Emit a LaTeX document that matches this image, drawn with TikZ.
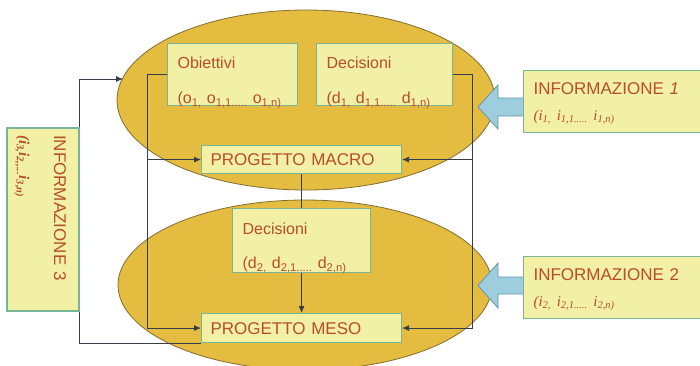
\documentclass[tikz,border=0pt]{standalone}
\usepackage{fontspec}
\setmainfont{Liberation Sans}
\newfontfamily\serifit{Liberation Serif}
\usetikzlibrary{shapes.geometric,arrows.meta}
\definecolor{ellfill}{RGB}{228,188,64}
\definecolor{ellline}{RGB}{130,110,50}
\definecolor{boxfill}{RGB}{242,240,164}
\definecolor{boxline}{RGB}{120,180,150}
\definecolor{txt}{RGB}{182,78,42}
\definecolor{arrfill}{RGB}{158,205,222}
\definecolor{arrline}{RGB}{100,150,175}
\definecolor{connc}{RGB}{55,60,75}
\begin{document}
\begin{tikzpicture}[x=1pt,y=-1pt,
  ell/.style={ellipse, draw=ellline, fill=ellfill, line width=0.8pt, inner sep=0pt},
  box/.style={rectangle, draw=boxline, fill=boxfill, line width=1.1pt, text=txt,
    inner xsep=10pt, inner ysep=0pt, anchor=north west, align=left},
  conn/.style={draw=connc, line width=0.8pt},
  arr/.style={-{Latex[length=7pt,width=6pt]}},
  fat/.style={draw=arrline, fill=arrfill, line width=0.8pt, line join=miter}]
\useasboundingbox (0,0) rectangle (700,365);
\clip (0,0) rectangle (700,365);
% ellipses
\node[ell, minimum width=378pt, minimum height=180pt] (topell) at (306,100) {};
\node[ell, minimum width=374pt, minimum height=170pt] (botell) at (305,285) {};
% fat arrows
\path[fat] (524,98) -- (498,98) -- (498,85) -- (478,107) -- (498,129) -- (498,116) -- (524,116) -- cycle;
\path[fat] (524,277) -- (498,277) -- (498,263) -- (478,285.5) -- (498,308) -- (498,294) -- (524,294) -- cycle;
% boxes
\node[box, minimum width=130pt, minimum height=62pt, text width=110pt, text height=25pt, text depth=37pt,
  font=\fontsize{16}{35}\selectfont] (obj) at (167,43)
  {Obiettivi\\(o\textsubscript{1,} o\textsubscript{1,1.....} o\textsubscript{1,n)}};
\node[box, minimum width=136pt, minimum height=62pt, text width=116pt, text height=25pt, text depth=37pt,
  font=\fontsize{16}{35}\selectfont] (dec1) at (316,43)
  {Decisioni\\(d\textsubscript{1,} d\textsubscript{1,1.....} d\textsubscript{1,n)}};
\node[box, minimum width=200pt, minimum height=28pt, text width=182pt, inner xsep=9pt, text height=12.2pt, text depth=0pt,
  font=\fontsize{17}{20}\selectfont] (macro) at (201,145) {PROGETTO MACRO};
\node[box, minimum width=138pt, minimum height=64pt, text width=118pt, text height=26pt, text depth=38pt,
  font=\fontsize{16}{34}\selectfont] (dec2) at (232,208)
  {Decisioni\\(d\textsubscript{2,} d\textsubscript{2,1.....} d\textsubscript{2,n)}};
\node[box, minimum width=200pt, minimum height=29pt, text width=182pt, inner xsep=9pt, text height=12.2pt, text depth=0pt,
  font=\fontsize{17}{20}\selectfont] (meso) at (201,313) {PROGETTO MESO};
\node[box, minimum width=180pt, minimum height=62pt, text width=160pt, text height=24pt, text depth=38pt,
  font=\fontsize{17}{26}\selectfont] (info1) at (523,70)
  {INFORMAZIONE \textit{1}\\{\serifit\itshape\fontsize{15}{26}\selectfont (i\textsubscript{1,} i\textsubscript{1,1.....} i\textsubscript{1,n)}}};
\node[box, minimum width=180pt, minimum height=62pt, text width=160pt, text height=24pt, text depth=38pt,
  font=\fontsize{17}{26}\selectfont] (info2) at (523,256)
  {INFORMAZIONE 2\\{\serifit\itshape\fontsize{15}{26}\selectfont (i\textsubscript{2,} i\textsubscript{2,1.....} i\textsubscript{2,n)}}};
\node[box, anchor=center, rotate=-90, minimum width=183pt, minimum height=72pt, inner xsep=7pt,
  text width=169pt, text height=25pt, text depth=47pt, font=\fontsize{17}{35}\selectfont] (info3) at (43,219.5)
  {INFORMAZIONE 3\\{\serifit\bfseries\itshape\fontsize{15}{35}\selectfont (i\textsubscript{3,}i\textsubscript{2,,...}i\textsubscript{3,n)}}};
% connectors
\coordinate (lx) at (147,0);
\coordinate (rx) at (472,0);
\coordinate (t1) at (123,79);
\draw[conn,arr] (obj.west) -- (obj.west -| lx) |- (meso.west);
\draw[conn,arr] (lx |- macro.west) -- (macro.west);
\draw[conn,arr] (dec1.east) -- (dec1.east -| rx) |- (meso.east);
\draw[conn,arr] (rx |- macro.east) -- (macro.east);
\draw[conn] (macro.south) -- (dec2.north);
\draw[conn,arr] (dec2.south) -- (meso.north);
\draw[conn,arr] (info3.north west) |- (t1);
\draw[conn] (info3.north east) |- (meso.south west);
\end{tikzpicture}
\end{document}
